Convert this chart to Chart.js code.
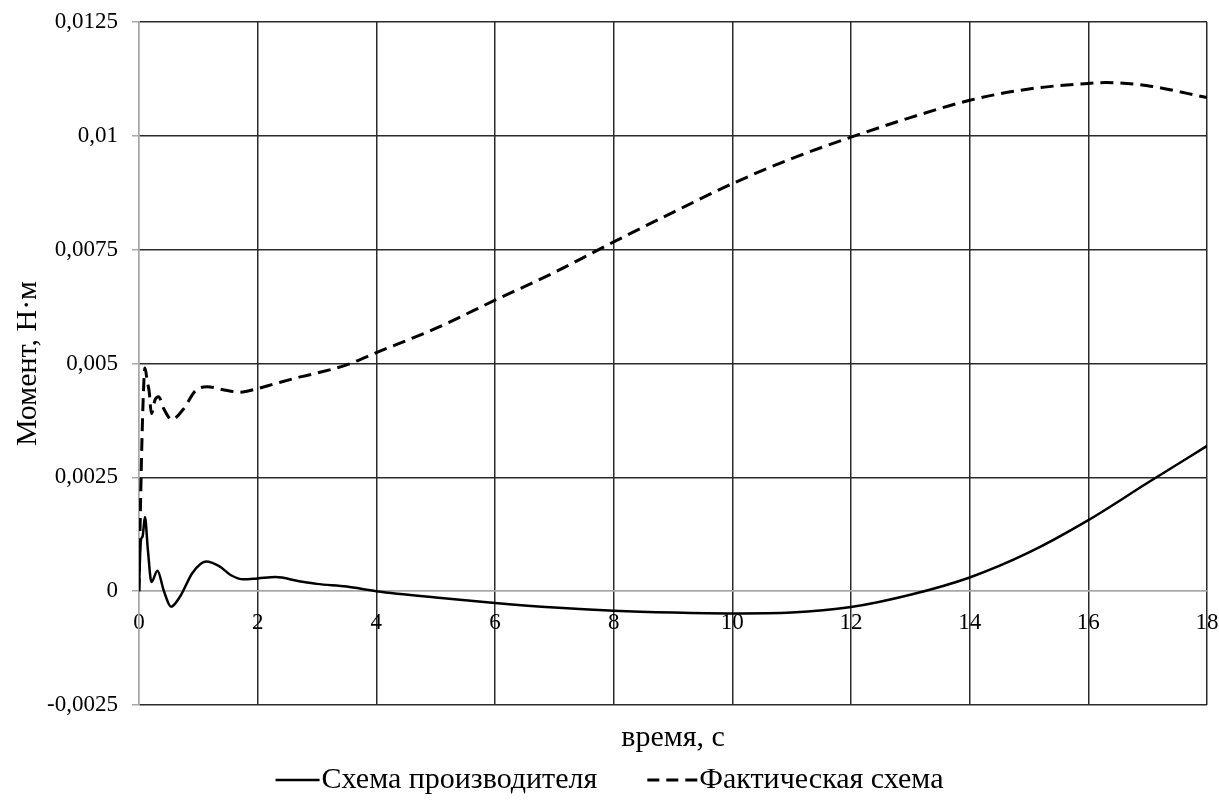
<!DOCTYPE html>
<html>
<head>
<meta charset="utf-8">
<script src="https://cdn.jsdelivr.net/npm/chart.js@4.4.1/dist/chart.umd.min.js"></script>
<style>
  html, body { margin: 0; padding: 0; background: #fff; }
  #wrap { width: 1219px; height: 803px; }
</style>
</head>
<body>
<div id="wrap"><canvas id="momentChart" width="1219" height="803"></canvas></div>
<script>
// время, с / момент, Н·м
const seriesNames = ['Схема производителя', 'Фактическая схема'];

const makerTime = [0, 0.03, 0.06, 0.1, 0.15, 0.21, 0.31, 0.42, 0.54, 0.7, 0.9, 1.13, 1.35, 1.55, 1.76, 2, 2.3, 2.7, 3, 3.5, 4, 5, 6, 7, 8, 9, 10, 11, 12, 13, 14, 15, 16, 17, 18];
const makerMoment = [0, 0.0011, 0.0012, 0.00163, 0.0009, 0.0002, 0.00045, 0.0000, -0.00034, -0.0001, 0.0004, 0.00065, 0.00055, 0.00035, 0.00026, 0.00028, 0.00031, 0.00022, 0.00016, 0.0001, 0.0000, -0.00014, -0.00026, -0.00036, -0.00043, -0.00047, -0.00049, -0.00047, -0.00035, -0.00008, 0.0003, 0.00085, 0.00156, 0.00238, 0.00319];

const actualTime = [0, 0.03, 0.07, 0.1, 0.14, 0.17, 0.21, 0.27, 0.33, 0.42, 0.55, 0.75, 0.95, 1.15, 1.4, 1.7, 2, 2.3, 2.7, 3, 3.5, 4, 5, 6, 7, 8, 9, 10, 11, 12, 13, 14, 15, 16, 16.3, 17, 18];
const actualMoment = [0, 0.0022, 0.0042, 0.0049, 0.0046, 0.0044, 0.0039, 0.0042, 0.00427, 0.004, 0.00377, 0.004, 0.0044, 0.00449, 0.00443, 0.00437, 0.00445, 0.00456, 0.0047, 0.00479, 0.00497, 0.00524, 0.00577, 0.00639, 0.007, 0.00767, 0.00832, 0.00895, 0.0095, 0.00997, 0.0104, 0.01078, 0.01103, 0.01115, 0.01117, 0.0111, 0.01084];

const toPoints = (xs, ys) => xs.map((x, i) => ({ x: x, y: ys[i] }));

const serif = 'Liberation Serif, Times New Roman, serif';
const gridDark = '#2b2b2b';
const gridLight = '#a8a8a8';

const fmt = v => {
  const r = Math.round(v * 10000) / 10000;
  return String(r).replace('.', ',');
};

// легенда снизу: короткий отрезок линии + подпись, как в оригинале
const lineLegend = {
  id: 'lineLegend',
  afterDraw(chart) {
    const ctx = chart.ctx;
    const ds = chart.data.datasets;
    const y = 780;
    const sampleW = [44, 50];
    const textGap = 2;
    const itemGap = 50;
    ctx.save();
    ctx.font = '30px ' + serif;
    const widths = ds.map(d => ctx.measureText(d.label).width);
    let total = 0;
    ds.forEach((d, i) => { total += sampleW[i] + textGap + widths[i]; });
    total += itemGap * (ds.length - 1);
    let x = chart.width / 2 - total / 2;
    ds.forEach((d, i) => {
      ctx.strokeStyle = d.borderColor;
      ctx.lineWidth = d.borderWidth;
      ctx.setLineDash(d.borderDash ? [12, 7] : []);
      ctx.beginPath();
      ctx.moveTo(x, y);
      ctx.lineTo(x + sampleW[i], y);
      ctx.stroke();
      x += sampleW[i] + textGap;
      ctx.setLineDash([]);
      ctx.fillStyle = '#000';
      ctx.textBaseline = 'middle';
      ctx.textAlign = 'left';
      ctx.fillText(d.label, x, y);
      x += widths[i] + itemGap;
    });
    ctx.restore();
  }
};

new Chart(document.getElementById('momentChart'), {
  type: 'line',
  data: {
    datasets: [{
      label: seriesNames[0],
      data: toPoints(makerTime, makerMoment),
      borderColor: '#000',
      borderWidth: 2.5,
      pointRadius: 0,
      cubicInterpolationMode: 'monotone',
      fill: false
    }, {
      label: seriesNames[1],
      data: toPoints(actualTime, actualMoment),
      borderColor: '#000',
      borderWidth: 3,
      borderDash: [13, 7],
      pointRadius: 0,
      cubicInterpolationMode: 'monotone',
      fill: false
    }]
  },
  options: {
    responsive: false,
    animation: false,
    devicePixelRatio: 1,
    layout: { padding: { top: 22, right: 12, left: 0, bottom: 47 } },
    scales: {
      x: {
        type: 'linear',
        position: { y: 0 },
        min: 0,
        max: 18,
        ticks: {
          stepSize: 2,
          color: '#000',
          font: { family: serif, size: 23 },
          padding: 18,
          maxRotation: 0,
          callback: v => fmt(v)
        },
        grid: {
          drawTicks: false,
          lineWidth: 1.5,
          color: ctx => (ctx.tick && ctx.tick.value === 0) ? gridLight : gridDark
        },
        border: { display: true, color: gridLight, width: 1.5 },
        afterFit: s => { s.paddingLeft = 0; s.paddingRight = 0; }
      },
      xt: {
        type: 'linear',
        position: 'bottom',
        min: 0,
        max: 18,
        ticks: { display: false },
        grid: { display: false },
        border: { display: false },
        title: {
          display: true,
          text: 'время, с',
          color: '#000',
          font: { family: serif, size: 30 },
          padding: { top: 0, bottom: 0 }
        },
        afterFit: s => { s.height = 51; s.paddingLeft = 0; s.paddingRight = 0; }
      },
      y: {
        min: -0.0025,
        max: 0.0125,
        ticks: {
          stepSize: 0.0025,
          color: '#000',
          font: { family: serif, size: 23 },
          padding: 14,
          callback: v => fmt(v)
        },
        grid: {
          tickLength: 7,
          tickColor: gridLight,
          lineWidth: 1.5,
          color: ctx => (ctx.tick && Math.abs(ctx.tick.value) < 1e-9) ? gridLight : gridDark
        },
        border: { display: true, color: gridLight, width: 1.5 },
        title: {
          display: true,
          text: 'Момент, Н·м',
          color: '#000',
          font: { family: serif, size: 30 },
          padding: { top: 10, bottom: 0 }
        },
        afterFit: s => { s.width = 139; s.paddingTop = 0; s.paddingBottom = 0; }
      }
    },
    plugins: {
      tooltip: { enabled: false },
      legend: { display: false }
    }
  },
  plugins: [lineLegend]
});
</script>
</body>
</html>
